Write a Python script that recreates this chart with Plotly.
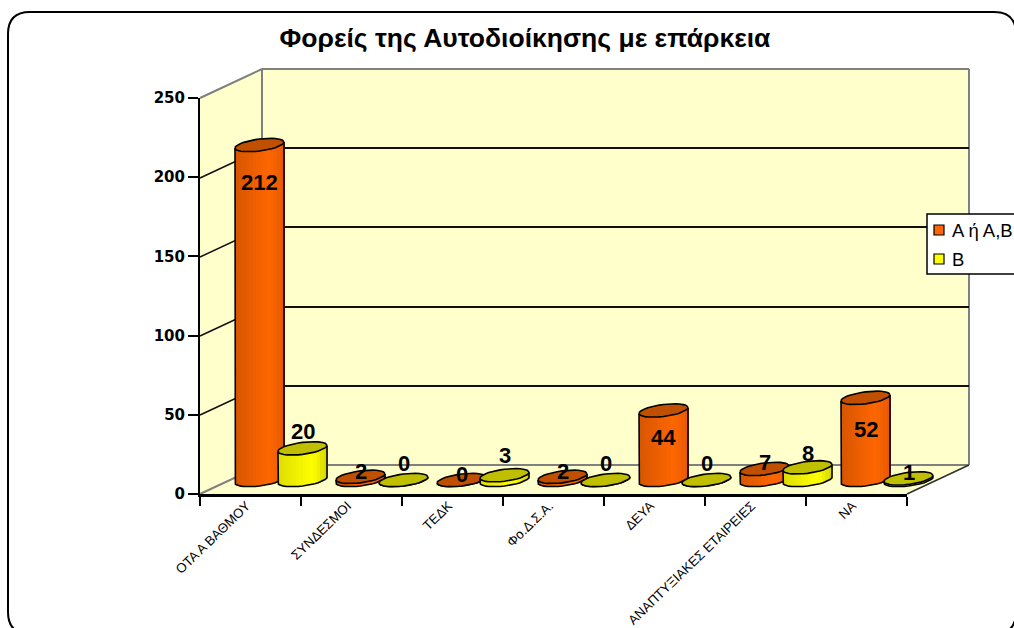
import math
import plotly.graph_objects as go

title = "Φορείς της Αυτοδιοίκησης με επάρκεια"
categories = ["ΟΤΑ Α ΒΑΘΜΟΥ", "ΣΥΝΔΕΣΜΟΙ", "ΤΕΔΚ", "Φο.Δ.Σ.Α.", "ΔΕΥΑ", "ΑΝΑΠΤΥΞΙΑΚΕΣ ΕΤΑΙΡΕΙΕΣ", "ΝΑ"]
series_a_name = "Α ή Α,Β"
series_b_name = "Β"
series_a = [212, 2, 0, 2, 44, 7, 52]
series_b = [20, 0, 3, 0, 0, 8, 1]
y_ticks = [0, 50, 100, 150, 200, 250]

# label nudges in pixels (style only)
shift_a = [-37, 5, 6, 5, -27, 6, -32]
shift_b = [17, 17, 20, 17, 17, 14, 6]

W, H = 1014, 628
FONT = "Liberation Sans, Arial, sans-serif"
px_x = lambda p: p / W
px_y = lambda p: 1 - p / H

PX_PER_UNIT = 395 / 250
FRONT_L, FRONT_R, FRONT_B, FRONT_T = 200, 907, 494, 98
WALL_L, WALL_R, WALL_B, WALL_T = 262, 969, 465, 69
BAR_DX, BAR_BASE = 30.5, 480
BAR_PAD = 10  # data units under zero kept for the rounded feet
CAT_PX = (FRONT_R - FRONT_L) / len(categories)
RX, RY, SKEW = 24.5, 6.0, 3.0
GROUP_OFF = 21.5 / CAT_PX
N_STRIP = 14


def lerp_color(stops, t):
    for (t0, c0), (t1, c1) in zip(stops, stops[1:]):
        if t <= t1:
            f = (t - t0) / (t1 - t0)
            return "rgb(%d,%d,%d)" % tuple(round(a + (b - a) * f) for a, b in zip(c0, c1))
    return "rgb(%d,%d,%d)" % stops[-1][1]


orange_stops = [(0, (215, 86, 0)), (0.7, (255, 102, 0)), (1, (228, 90, 0))]
yellow_stops = [(0, (222, 222, 0)), (0.7, (255, 255, 0)), (1, (212, 212, 0))]

fig = go.Figure()


def axis_pair(n):
    return ("x%d" % n if n > 1 else "x"), ("y%d" % n if n > 1 else "y")


def add_series(name, values, stops, cap_color, off, n):
    xa, ya = axis_pair(n)
    xs = [i + off for i in range(len(values))]
    strip_w = 2 / N_STRIP
    for j in range(N_STRIP):
        u = -1 + (j + 0.5) * strip_w
        sag = RY * math.sqrt(max(0, 1 - u * u)) - SKEW * u
        tilt = SKEW * u / PX_PER_UNIT
        base = -sag / PX_PER_UNIT
        fig.add_trace(go.Bar(
            x=[x + u * RX / CAT_PX for x in xs],
            y=[v + tilt - base for v in values],
            base=[base] * len(values),
            width=strip_w * RX / CAT_PX * 1.2,
            marker=dict(color=lerp_color(stops, (u + 1) / 2), line=dict(width=0)),
            name=name, showlegend=False, hoverinfo="skip", xaxis=xa, yaxis=ya,
        ))
    steps = [k * 2 * math.pi / 36 for k in range(37)]
    half = [s for s in steps if s <= math.pi + 1e-9]
    ox, oy, cx_, cy_ = [], [], [], []
    for x, v in zip(xs, values):
        # side outline: down the left side, round the foot, up the right side
        ox.append(x - RX / CAT_PX)
        oy.append(v - SKEW / PX_PER_UNIT)
        for s in reversed(half):
            ox.append(x + RX * math.cos(s) / CAT_PX)
            oy.append((-RY * math.sin(s) + SKEW * math.cos(s)) / PX_PER_UNIT)
        ox += [x + RX / CAT_PX, None]
        oy += [v + SKEW / PX_PER_UNIT, None]
        for s in steps:
            cx_.append(x + RX * math.cos(s) / CAT_PX)
            cy_.append(v + (RY * math.sin(s) + SKEW * math.cos(s)) / PX_PER_UNIT)
        cx_.append(None)
        cy_.append(None)
    fig.add_trace(go.Scatter(x=ox, y=oy, mode="lines", line=dict(color="black", width=1.6),
                             showlegend=False, hoverinfo="skip", xaxis=xa, yaxis=ya, cliponaxis=False))
    fig.add_trace(go.Scatter(x=cx_, y=cy_, mode="lines", fill="toself", fillcolor=cap_color,
                             line=dict(color="black", width=1.6), showlegend=False, hoverinfo="skip",
                             xaxis=xa, yaxis=ya, cliponaxis=False))


# wall subplot carries the gridlines
fig.add_trace(go.Scatter(x=[0], y=[0], mode="markers", marker=dict(opacity=0), showlegend=False,
                         hoverinfo="skip", xaxis="x", yaxis="y"))
add_series(series_a_name, series_a, orange_stops, "#C05000", -GROUP_OFF, 2)
add_series(series_b_name, series_b, yellow_stops, "#BFBF00", GROUP_OFF, 3)
# front subplot carries the visible axes
fig.add_trace(go.Scatter(x=categories, y=[0] * len(categories), mode="markers", marker=dict(opacity=0),
                         showlegend=False, hoverinfo="skip", xaxis="x4", yaxis="y4"))

GREY = "#808080"
shapes = []


def line(x0, y0, x1, y1, color=GREY, width=2):
    shapes.append(dict(type="line", xref="paper", yref="paper", x0=px_x(x0), y0=px_y(y0), x1=px_x(x1), y1=px_y(y1),
                       line=dict(color=color, width=width), layer="below"))


def poly(points, fill):
    d = "M " + " L ".join("%.5f %.5f" % (px_x(a), px_y(b)) for a, b in points) + " Z"
    shapes.append(dict(type="path", xref="paper", yref="paper", path=d, fillcolor=fill, line=dict(width=0), layer="below"))


# chart frame with rounded corners
frame = "M {} {} Q {} {} {} {} L {} {} Q {} {} {} {} L {} {} Q {} {} {} {} L {} {} Q {} {} {} {} Z".format(
    px_x(8), px_y(34), px_x(8), px_y(12), px_x(30), px_y(12),
    px_x(994), px_y(12), px_x(1016), px_y(12), px_x(1016), px_y(34),
    px_x(1016), px_y(612), px_x(1016), px_y(634), px_x(994), px_y(634),
    px_x(30), px_y(634), px_x(8), px_y(634), px_x(8), px_y(612))
shapes.append(dict(type="path", xref="paper", yref="paper", path=frame, fillcolor="white",
                   line=dict(color="black", width=2), layer="below"))
WALL_FILL = "#FFFFCC"
poly([(WALL_L, WALL_T), (WALL_R, WALL_T), (WALL_R, WALL_B), (WALL_L, WALL_B)], WALL_FILL)
poly([(FRONT_L, FRONT_T), (WALL_L, WALL_T), (WALL_L, WALL_B), (FRONT_L, FRONT_B)], WALL_FILL)
poly([(FRONT_L, FRONT_B), (WALL_L, WALL_B), (WALL_R, WALL_B), (FRONT_R, FRONT_B)], WALL_FILL)
line(WALL_L, WALL_T, WALL_R, WALL_T)
line(WALL_L, WALL_T, WALL_L, WALL_B)
line(WALL_R, WALL_T, WALL_R, WALL_B)
line(WALL_L, WALL_B, WALL_R, WALL_B)
line(FRONT_L, FRONT_T, WALL_L, WALL_T)
line(FRONT_L, FRONT_B, WALL_L, WALL_B)
line(FRONT_R, FRONT_B, WALL_R, WALL_B, "#303030", 1.5)
for v in y_ticks[1:-1]:
    y = FRONT_B - v * PX_PER_UNIT
    line(FRONT_L, y, WALL_L, y - (FRONT_B - WALL_B), "#101010", 1.5)

# legend box
LEG_L, LEG_T, LEG_B = 927, 214, 274
shapes.append(dict(type="rect", xref="paper", yref="paper", x0=px_x(LEG_L), x1=px_x(1020), y0=px_y(LEG_T), y1=px_y(LEG_B),
                   fillcolor="white", line=dict(color="black", width=1.5), layer="above"))
annotations = []
for yc, col, txt in [(230, "#FF6600", series_a_name), (259, "#FFFF00", series_b_name)]:
    shapes.append(dict(type="rect", xref="paper", yref="paper", x0=px_x(934), x1=px_x(944), y0=px_y(yc - 5), y1=px_y(yc + 5),
                       fillcolor=col, line=dict(color="black", width=1.2), layer="above"))
    annotations.append(dict(xref="paper", yref="paper", x=px_x(949.5), y=px_y(yc), text=txt, showarrow=False,
                            xanchor="left", yanchor="middle", font=dict(family=FONT, size=18.5, color="black")))

# value labels
for n, vals, off, shifts in [(2, series_a, -GROUP_OFF, shift_a), (3, series_b, GROUP_OFF, shift_b)]:
    xa, ya = axis_pair(n)
    for i, (v, s) in enumerate(zip(vals, shifts)):
        annotations.append(dict(xref=xa, yref=ya, x=i + off, y=v, yshift=s, text=str(v), showarrow=False,
                                xanchor="center", yanchor="middle",
                                font=dict(family=FONT, size=22, color="black", weight="bold")))


def dom_x(l, r):
    return [px_x(l), px_x(r)]


def dom_y(b, t):
    return [px_y(b), px_y(t)]


hidden = dict(visible=False, showgrid=False, zeroline=False)
x_range = [-0.5, len(categories) - 0.5]
bar_x_dom = dom_x(FRONT_L + BAR_DX, FRONT_R + BAR_DX)
bar_y_dom = dom_y(BAR_BASE + BAR_PAD * PX_PER_UNIT, BAR_BASE - 250 * PX_PER_UNIT)

fig.update_layout(
    template="none",
    width=W, height=H, autosize=False, margin=dict(l=0, r=0, t=0, b=0),
    paper_bgcolor="white", plot_bgcolor="rgba(0,0,0,0)", barmode="overlay", bargap=0,
    showlegend=False, hovermode=False,
    title=dict(text=title, x=525 / W, y=px_y(38), xanchor="center", yanchor="middle", xref="paper", yref="paper",
               font=dict(family=FONT, size=26.5, color="black", weight="bold")),
    xaxis=dict(domain=dom_x(WALL_L, WALL_R), range=[0, 1], anchor="y", **hidden),
    yaxis=dict(domain=dom_y(WALL_B, WALL_T), range=[0, 250], anchor="x", showgrid=True, gridcolor="#101010", gridwidth=1.5,
               tickvals=y_ticks[1:-1], showticklabels=False, ticks="", zeroline=False, showline=False),
    xaxis2=dict(domain=bar_x_dom, range=x_range, anchor="y2", **hidden),
    yaxis2=dict(domain=bar_y_dom, range=[-BAR_PAD, 250], anchor="x2", **hidden),
    xaxis3=dict(domain=bar_x_dom, range=x_range, anchor="y3", **hidden),
    yaxis3=dict(domain=bar_y_dom, range=[-BAR_PAD, 250], anchor="x3", **hidden),
    xaxis4=dict(domain=dom_x(FRONT_L, FRONT_R), type="category", categoryorder="array", categoryarray=categories,
                range=x_range, anchor="y4", showgrid=False, zeroline=False, showline=True, linecolor="black", linewidth=3,
                ticks="outside", ticklen=9, tickwidth=2, tickcolor="black", tickson="boundaries", tickangle=-44,
                ticklabelstandoff=-4, ticklabelshift=-4,
                tickfont=dict(family=FONT, size=13.2, color="black")),
    yaxis4=dict(domain=dom_y(FRONT_B, FRONT_T), range=[0, 250], anchor="x4", tickvals=y_ticks, showgrid=False,
                zeroline=False, showline=True, linecolor="black", linewidth=2, ticks="outside", ticklen=10, tickwidth=2,
                tickcolor="black", tickfont=dict(family="DejaVu Sans", size=15, color="black", weight="bold")),
    shapes=shapes, annotations=annotations,
)

fig.write_html("out.html", config={"displayModeBar": False},
               post_script="document.body.style.margin='0';document.body.style.overflow='hidden';")
